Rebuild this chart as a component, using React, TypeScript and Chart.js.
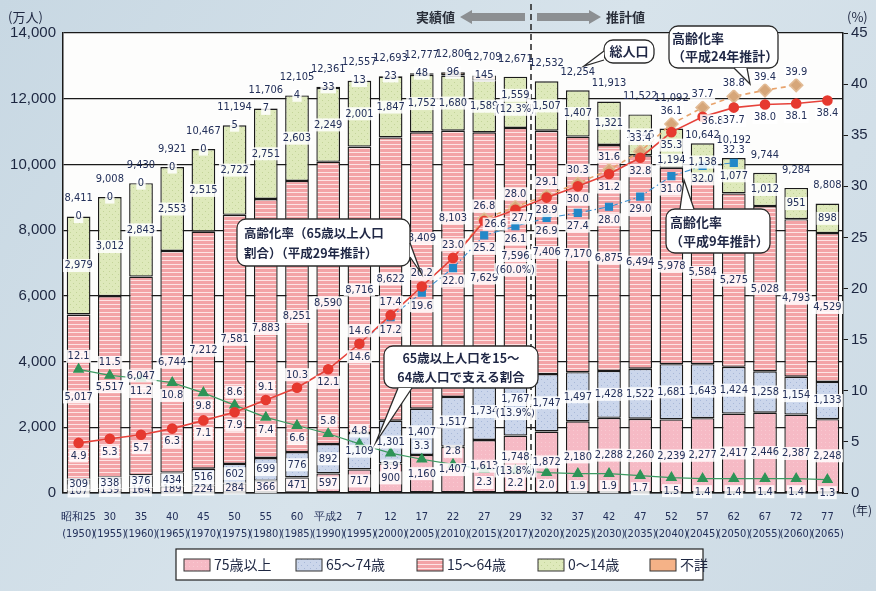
import React, { useEffect, useRef } from "react";
import { Chart, registerables } from "chart.js";

Chart.register(...registerables);

// ---- data ----
const eraLabels = ["昭和25", "30", "35", "40", "45", "50", "55", "60", "平成2", "7", "12", "17", "22", "27", "29", "32", "37", "42", "47", "52", "57", "62", "67", "72", "77"];
const yearLabels = ["(1950)", "(1955)", "(1960)", "(1965)", "(1970)", "(1975)", "(1980)", "(1985)", "(1990)", "(1995)", "(2000)", "(2005)", "(2010)", "(2015)", "(2017)", "(2020)", "(2025)", "(2030)", "(2035)", "(2040)", "(2045)", "(2050)", "(2055)", "(2060)", "(2065)"];

const pop75Plus = [107, 139, 164, 189, 224, 284, 366, 471, 597, 717, 900, 1160, 1407, 1613, 1748, 1872, 2180, 2288, 2260, 2239, 2277, 2417, 2446, 2387, 2248];
const pop65To74 = [309, 338, 376, 434, 516, 602, 699, 776, 892, 1109, 1301, 1407, 1517, 1734, 1767, 1747, 1497, 1428, 1522, 1681, 1643, 1424, 1258, 1154, 1133];
const pop15To64 = [5017, 5517, 6047, 6744, 7212, 7581, 7883, 8251, 8590, 8716, 8622, 8409, 8103, 7629, 7596, 7406, 7170, 6875, 6494, 5978, 5584, 5275, 5028, 4793, 4529];
const pop0To14 = [2979, 3012, 2843, 2553, 2515, 2722, 2751, 2603, 2249, 2001, 1847, 1752, 1680, 1589, 1559, 1507, 1407, 1321, 1246, 1194, 1138, 1077, 1012, 951, 898];
const popUnknown = [0, 0, 0, 0, 0, 5, 7, 4, 33, 13, 23, 48, 96, 145, null, null, null, null, null, null, null, null, null, null, null];
const popTotal = [8411, 9008, 9430, 9921, 10467, 11194, 11706, 12105, 12361, 12557, 12693, 12777, 12806, 12709, 12671, 12532, 12254, 11913, 11522, 11092, 10642, 10192, 9744, 9284, 8808];

// shares shown for 平成29 (2017): 75+, 65-74, 15-64, 0-14
const shareYearIndex = 14;
const shares2017 = ["13.8%", "13.9%", "60.0%", "12.3%"];

// aging rate (%), H29 projection
const rateH29 = [4.9, 5.3, 5.7, 6.3, 7.1, 7.9, 9.1, 10.3, 12.1, 14.6, 17.4, 20.2, 23.0, 26.6, 27.7, 28.9, 30.0, 31.2, 32.8, 35.3, 36.8, 37.7, 38.0, 38.1, 38.4];
// aging rate (%), H24 projection
const rateH24 = [null, null, null, null, null, null, null, null, null, null, null, null, 23.0, 26.8, 28.0, 29.1, 30.3, 31.6, 33.4, 36.1, 37.7, 38.8, 39.4, 39.9, null];
// aging rate (%), H9 projection
const rateH9 = [null, null, null, null, null, null, null, null, null, 14.6, 17.2, 19.6, 22.0, 25.2, 26.1, 26.9, 27.4, 28.0, 29.0, 31.0, 32.0, 32.3, null, null, null];
// persons aged 15-64 per person aged 65+
const supportRatio = [12.1, 11.5, 11.2, 10.8, 9.8, 8.6, 7.4, 6.6, 5.8, 4.8, 3.9, 3.3, 2.8, 2.3, 2.2, 2.0, 1.9, 1.9, 1.7, 1.5, 1.4, 1.4, 1.4, 1.4, 1.3];

// label placement for line values (a = above, b = below, r = right, q = lower right, s = slightly lower right)
const posH29 = ["b", "b", "b", "b", "b", "b", "a", "a", "b", "a", "a", "a", "a", "r", "q", "b", "b", "b", "b", "b", "s", "b", "b", "b", "b"];
const posH9 = ["b", "b", "b", "b", "b", "b", "b", "b", "b", "b", "b", "b", "b", "b", "b", "b", "b", "b", "b", "b", "b", "a", "b", "b", "b"];
const posSupport = ["a", "a", "b", "b", "b", "a", "b", "b", "a", "a", "b", "a", "a", "b", "b", "b", "b", "b", "b", "b", "b", "b", "b", "b", "b"];
// vertical nudges (px) for a few segment labels that sit under the lines: "dataset-index"
const segLabelNudge: Record<string, number> = { "2-11": -32, "2-12": -46, "2-13": 20, "2-14": 10, "3-19": 12 };
const totalLabelLift: Record<number, number> = { 19: 30, 20: 8 };

const NUM_FONT = "'DejaVu Sans Condensed', 'Liberation Sans', sans-serif";
const JP_FONT = "'Noto Sans CJK JP', 'Noto Sans', sans-serif";
const INK = "#23305a";

const fmt = (n: number) => n.toLocaleString("en-US");

function makeTile(w: number, h: number, paint: (c: CanvasRenderingContext2D) => void) {
  const cv = document.createElement("canvas");
  cv.width = w;
  cv.height = h;
  const c = cv.getContext("2d")!;
  paint(c);
  return cv;
}

function boxedText(ctx: CanvasRenderingContext2D, text: string, x: number, y: number) {
  ctx.font = `11px ${NUM_FONT}`;
  const w = ctx.measureText(text).width;
  ctx.fillStyle = "rgba(255,255,255,0.85)";
  ctx.fillRect(x - w / 2 - 1.5, y - 6.5, w + 3, 13);
  ctx.fillStyle = INK;
  ctx.textAlign = "center";
  ctx.textBaseline = "middle";
  ctx.fillText(text, x, y);
}

function callout(
  ctx: CanvasRenderingContext2D,
  x: number, y: number, w: number, h: number,
  tail: number[][],
  lines: string[], tx: number, ty: number, lh: number, align: CanvasTextAlign, size = 13
) {
  ctx.save();
  ctx.lineWidth = 1.3;
  ctx.strokeStyle = "#2b2b2b";
  ctx.fillStyle = "#ffffff";
  ctx.beginPath();
  ctx.roundRect(x, y, w, h, 9);
  ctx.fill();
  ctx.stroke();
  ctx.beginPath();
  ctx.moveTo(tail[0][0], tail[0][1]);
  ctx.lineTo(tail[2][0], tail[2][1]);
  ctx.lineTo(tail[1][0], tail[1][1]);
  ctx.closePath();
  ctx.fill();
  ctx.beginPath();
  ctx.moveTo(tail[0][0], tail[0][1]);
  ctx.lineTo(tail[2][0], tail[2][1]);
  ctx.lineTo(tail[1][0], tail[1][1]);
  ctx.stroke();
  ctx.fillStyle = "#1f2745";
  ctx.font = `bold ${size}px ${JP_FONT}`;
  ctx.textAlign = align;
  ctx.textBaseline = "middle";
  lines.forEach((t, i) => ctx.fillText(t, tx, ty + i * lh));
  ctx.restore();
}

export default function App() {
  const ref = useRef<HTMLCanvasElement>(null);

  useEffect(() => {
    const canvas = ref.current!;
    const ctx = canvas.getContext("2d")!;

    const fill75 = ctx.createPattern(makeTile(4, 4, (c) => {
      c.fillStyle = "#f6bac5"; c.fillRect(0, 0, 4, 4);
      c.fillStyle = "#f9cad2"; c.fillRect(1, 2, 1, 1);
    }), "repeat")!;
    const fill65 = ctx.createPattern(makeTile(6, 6, (c) => {
      c.fillStyle = "#cbd6eb"; c.fillRect(0, 0, 6, 6);
      c.fillStyle = "#a7b8d9"; c.fillRect(1, 1, 1, 1); c.fillRect(4, 4, 1, 1);
    }), "repeat")!;
    const fill15 = ctx.createPattern(makeTile(4, 4, (c) => {
      c.fillStyle = "#f3a3a6"; c.fillRect(0, 0, 4, 4);
      c.fillStyle = "#fde4e4"; c.fillRect(0, 0, 4, 1);
    }), "repeat")!;
    const fill0 = ctx.createPattern(makeTile(6, 6, (c) => {
      c.fillStyle = "#dee9bb"; c.fillRect(0, 0, 6, 6);
      c.fillStyle = "#c3d499"; c.fillRect(1, 1, 1, 1); c.fillRect(4, 4, 1, 1);
    }), "repeat")!;
    const fillUnknown = "#f5b287";

    const barCommon = {
      type: "bar" as const,
      yAxisID: "y",
      borderColor: "#1a1a1a",
      borderWidth: 1.4,
      borderSkipped: false,
      barPercentage: 0.76,
      categoryPercentage: 1.0,
      stack: "pop",
    };

    const stackTop = (i: number) =>
      pop75Plus[i] + pop65To74[i] + pop15To64[i] + pop0To14[i] + (popUnknown[i] ?? 0);

    const background = {
      id: "background",
      beforeDraw(chart: any) {
        const { ctx: c, chartArea: a, width, height } = chart;
        c.save();
        const g = c.createLinearGradient(0, 0, width, height);
        g.addColorStop(0, "#c8d8e3");
        g.addColorStop(0.5, "#d7e3eb");
        g.addColorStop(1, "#cddbe5");
        c.fillStyle = g;
        c.fillRect(0, 0, width, height);
        c.fillStyle = "#fdfdfc";
        c.fillRect(a.left, a.top, a.right - a.left, a.bottom - a.top);
        c.restore();
      },
    };

    const overlay = {
      id: "overlay",
      afterDatasetsDraw(chart: any) {
        const c: CanvasRenderingContext2D = chart.ctx;
        const a = chart.chartArea;
        const xs = chart.scales.x;
        const ys = chart.scales.y;
        c.save();

        // boundary between recorded and projected values
        const xDiv = (xs.getPixelForValue(shareYearIndex) + xs.getPixelForValue(shareYearIndex + 1)) / 2;
        c.strokeStyle = "#222";
        c.lineWidth = 1.5;
        c.setLineDash([6, 4]);
        c.beginPath();
        c.moveTo(xDiv, 4);
        c.lineTo(xDiv, a.bottom);
        c.stroke();
        c.setLineDash([]);

        // segment values
        const segs = [pop75Plus, pop65To74, pop15To64, pop0To14];
        segs.forEach((arr, k) => {
          const meta = chart.getDatasetMeta(k);
          arr.forEach((v, i) => {
            const el = meta.data[i];
            const yc = (el.y + el.base) / 2 + (segLabelNudge[`${k}-${i}`] ?? 0);
            if (i === shareYearIndex) {
              boxedText(c, fmt(v), el.x, yc - 7);
              boxedText(c, `(${shares2017[k]})`, el.x, yc + 7);
            } else {
              boxedText(c, fmt(v), el.x, yc);
            }
          });
        });

        // unknown-age values and totals
        popTotal.forEach((t, i) => {
          const x = xs.getPixelForValue(i);
          const yTop = ys.getPixelForValue(stackTop(i));
          if (popUnknown[i] !== null) boxedText(c, String(popUnknown[i]), x, yTop);
          c.font = `11px ${NUM_FONT}`;
          c.fillStyle = INK;
          c.textAlign = "center";
          c.textBaseline = "middle";
          c.fillText(fmt(t), x, yTop - (totalLabelLift[i] ?? 18));
        });

        // line values
        const lineLabels = (dsIndex: number, arr: (number | null)[], pos: string[] | null, skip: number[] = []) => {
          const meta = chart.getDatasetMeta(dsIndex);
          arr.forEach((v, i) => {
            if (v === null || skip.includes(i)) return;
            const el = meta.data[i];
            const p = pos ? pos[i] : "a";
            let dx = 0, dy = 0;
            if (p === "a") dy = -13;
            else if (p === "b") dy = 13;
            else if (p === "r") { dx = 11; dy = 3; }
            else if (p === "s") { dx = 10; dy = 4; }
            else { dx = 7; dy = 8; }
            boxedText(c, v.toFixed(1), el.x + dx, el.y + dy);
          });
        };
        lineLabels(5, supportRatio, posSupport);
        lineLabels(6, rateH9, posH9);
        lineLabels(7, rateH24, null, [12]);
        lineLabels(8, rateH29, posH29);

        c.restore();
      },
      afterDraw(chart: any) {
        const c: CanvasRenderingContext2D = chart.ctx;
        const a = chart.chartArea;
        const xs = chart.scales.x;
        c.save();

        // axis titles
        c.fillStyle = "#1e2742";
        c.font = `13px ${JP_FONT}`;
        c.textBaseline = "middle";
        c.textAlign = "left";
        c.fillText("(万人)", 8, 17);
        c.fillText("(%)", 847, 17);
        c.font = `12px ${JP_FONT}`;
        c.fillText("(年)", a.right + 9, 510);

        // header: 実績値 ⇐ ┆ ⇒ 推計値
        const xDiv = (xs.getPixelForValue(shareYearIndex) + xs.getPixelForValue(shareYearIndex + 1)) / 2;
        const hy = 17;
        c.fillStyle = "#8c8f92";
        c.beginPath();
        c.moveTo(xDiv - 71, hy);
        c.lineTo(xDiv - 59, hy - 7);
        c.lineTo(xDiv - 59, hy - 4);
        c.lineTo(xDiv - 6, hy - 4);
        c.lineTo(xDiv - 6, hy + 4);
        c.lineTo(xDiv - 59, hy + 4);
        c.lineTo(xDiv - 59, hy + 7);
        c.closePath();
        c.fill();
        c.beginPath();
        c.moveTo(xDiv + 70, hy);
        c.lineTo(xDiv + 58, hy - 7);
        c.lineTo(xDiv + 58, hy - 4);
        c.lineTo(xDiv + 6, hy - 4);
        c.lineTo(xDiv + 6, hy + 4);
        c.lineTo(xDiv + 58, hy + 4);
        c.lineTo(xDiv + 58, hy + 7);
        c.closePath();
        c.fill();
        c.fillStyle = "#2a2f3a";
        c.font = `bold 13px ${JP_FONT}`;
        c.textAlign = "right";
        c.fillText("実績値", xDiv - 76, hy);
        c.textAlign = "left";
        c.fillText("推計値", xDiv + 75, hy);

        // callouts
        callout(c, 604, 40, 50, 23, [[604, 51], [604, 60], [584, 66]], ["総人口"], 629, 51.5, 0, "center");
        callout(c, 669, 26, 109, 42, [[734, 68], [747, 68], [750, 84]], ["高齢化率", "（平成24年推計）"], 672, 38, 18, "left");
        callout(c, 666, 209, 104, 44, [[680, 209], [694, 209], [684, 180]], ["高齢化率", "（平成9年推計）"], 670, 222, 19, "left");
        callout(c, 237, 219, 173, 47, [[410, 243], [410, 257], [421, 273]], ["高齢化率（65歳以上人口", "割合）（平成29年推計）"], 244, 233, 20, "left", 12.5);
        callout(c, 384, 346, 154, 42, [[398, 388], [412, 388], [376, 442]], ["65歳以上人口を15～", "64歳人口で支える割合"], 461, 358, 19, "center", 12.5);

        // legend
        c.fillStyle = "#ffffff";
        c.fillRect(176, 549, 527, 31);
        c.strokeStyle = "#222";
        c.lineWidth = 1.2;
        c.strokeRect(176, 549, 527, 31);
        const items = [
          { f: fill75, t: "75歳以上", sx: 184 },
          { f: fill65, t: "65～74歳", sx: 296 },
          { f: fill15, t: "15～64歳", sx: 417 },
          { f: fill0, t: "0～14歳", sx: 538 },
          { f: fillUnknown, t: "不詳", sx: 650 },
        ];
        items.forEach((it) => {
          c.fillStyle = it.f as any;
          c.fillRect(it.sx, 559, 26, 12);
          c.strokeStyle = "#333";
          c.lineWidth = 1;
          c.strokeRect(it.sx, 559, 26, 12);
          c.fillStyle = "#1e2742";
          c.font = `14px ${JP_FONT}`;
          c.textAlign = "left";
          c.textBaseline = "middle";
          c.fillText(it.t, it.sx + 30, 565);
        });

        c.restore();
      },
    };

    const chart = new Chart(ctx, {
      type: "bar",
      data: {
        labels: eraLabels.map((e, i) => [e, yearLabels[i]]),
        datasets: [
          { ...barCommon, label: "75歳以上", data: pop75Plus, backgroundColor: fill75, order: 10 },
          { ...barCommon, label: "65～74歳", data: pop65To74, backgroundColor: fill65, order: 11 },
          { ...barCommon, label: "15～64歳", data: pop15To64, backgroundColor: fill15, order: 12 },
          { ...barCommon, label: "0～14歳", data: pop0To14, backgroundColor: fill0, order: 13 },
          { ...barCommon, label: "不詳", data: popUnknown, backgroundColor: fillUnknown, order: 14 },
          {
            type: "line", label: "支える割合", data: supportRatio, yAxisID: "y2", order: 3,
            borderColor: "#3c9a62", borderWidth: 1.2, backgroundColor: "#2e9457",
            pointStyle: "triangle", pointRadius: 5.5, pointBorderColor: "#2e9457",
          },
          {
            type: "line", label: "平成9年推計", data: rateH9, yAxisID: "y2", order: 2,
            borderColor: "#3b8fcf", borderWidth: 1.1, borderDash: [6, 3, 1.5, 3], backgroundColor: "#2288c8",
            pointStyle: "rect", pointRadius: 5, pointBorderColor: "#2288c8", spanGaps: false,
          },
          {
            type: "line", label: "平成24年推計", data: rateH24, yAxisID: "y2", order: 1,
            borderColor: "#e8a36c", borderWidth: 1.6, borderDash: [5, 4], backgroundColor: "#d6a679",
            pointStyle: "rectRot", pointRadius: rateH24.map((_, i) => (i === 12 ? 0 : 6.5)),
            pointBorderColor: "#e2bb95", spanGaps: false,
          },
          {
            type: "line", label: "平成29年推計", data: rateH29, yAxisID: "y2", order: 0,
            borderColor: "#e6423a", borderWidth: 1.6, backgroundColor: "#e6392f",
            pointStyle: "circle", pointRadius: 4.5, pointBorderColor: "#e6392f",
          },
        ] as any,
      },
      options: {
        responsive: false,
        animation: false,
        devicePixelRatio: 1,
        layout: { padding: { left: 8, right: 0, top: 33, bottom: 0 } },
        plugins: { legend: { display: false }, tooltip: { enabled: false } },
        scales: {
          x: {
            stacked: true,
            grid: { display: false },
            border: { display: true, color: "#1a1a1a", width: 1.5 },
            ticks: {
              autoSkip: false, maxRotation: 0, minRotation: 0, padding: 8,
              color: INK, font: { size: 11, family: NUM_FONT, lineHeight: 1.5 },
            },
            afterFit: (s: any) => { s.height = 98; },
          },
          y: {
            stacked: true, min: 0, max: 14000,
            ticks: {
              stepSize: 2000, padding: 7, color: "#1c2640",
              font: { size: 15, family: "'Liberation Sans', Arial, sans-serif" },
              callback: (v: any) => fmt(Number(v)),
            },
            grid: { color: "#1a1a1a", lineWidth: 1.2, drawTicks: false },
            border: { display: true, color: "#1a1a1a", width: 1.5 },
            afterFit: (s: any) => { s.width = 55; },
          },
          y2: {
            position: "right", stacked: false, min: 0, max: 45,
            ticks: {
              stepSize: 5, padding: 3, color: "#1c2640",
              font: { size: 15, family: "'Liberation Sans', Arial, sans-serif" },
            },
            grid: { drawOnChartArea: false, color: "#1a1a1a", tickLength: 5 },
            border: { display: true, color: "#1a1a1a", width: 1.5 },
            afterFit: (s: any) => { s.width = 33; },
          },
        },
      } as any,
      plugins: [background, overlay],
    });

    return () => chart.destroy();
  }, []);

  return (
    <div style={{ position: "absolute", left: 0, top: 0, width: 876, height: 591 }}>
      <canvas ref={ref} width={876} height={591} style={{ display: "block", width: 876, height: 591 }} />
    </div>
  );
}
